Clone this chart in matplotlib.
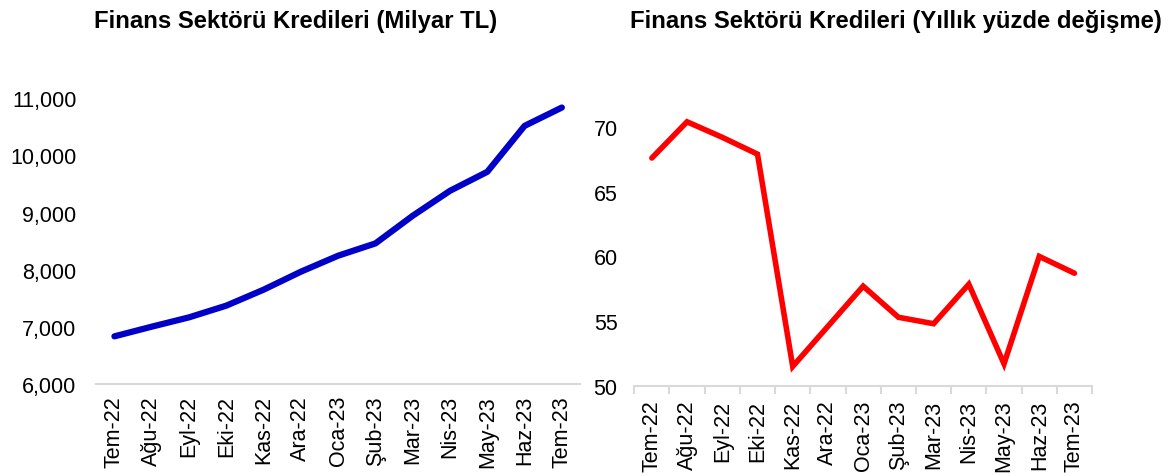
import matplotlib
matplotlib.use("Agg")
import matplotlib.pyplot as plt
from matplotlib.ticker import FuncFormatter, MultipleLocator

plt.rcParams['font.family'] = ['Liberation Sans', 'DejaVu Sans']

months = ["Tem-22", "Ağu-22", "Eyl-22", "Eki-22", "Kas-22", "Ara-22", "Oca-23",
          "Şub-23", "Mar-23", "Nis-23", "May-23", "Haz-23", "Tem-23"]
credit_level = [6833, 7002, 7165, 7370, 7649, 7964, 8244, 8459, 8943, 9380, 9712, 10516, 10837]
credit_growth = [67.6, 70.4, 69.2, 67.9, 51.5, 54.6, 57.7, 55.3, 54.8, 57.85, 51.7, 60.0, 58.7]

title_left = "Finans Sektörü Kredileri (Milyar TL)"
title_right = "Finans Sektörü Kredileri (Yıllık yüzde değişme)"

fig = plt.figure(figsize=(11.68, 4.77), dpi=100)
axL = fig.add_axes([0.082, 0.193, 0.415, 0.599])
axR = fig.add_axes([0.543, 0.189, 0.392, 0.597])

x = list(range(len(months)))
gray = "#d9d9d9"
fs = 15.5
tfs = 17.2

# Left
axL.plot(x, credit_level, color="#0000C8", lw=4.5, solid_capstyle="round", solid_joinstyle="round")
axL.set_xlim(-0.5, len(months) - 0.5)
axL.set_ylim(6000, 11000)
axL.yaxis.set_major_locator(MultipleLocator(1000))
axL.yaxis.set_major_formatter(FuncFormatter(lambda v, p: f"{int(v):,}"))
axL.set_xticks(x)
axL.set_xticklabels(months, rotation=90, fontsize=fs)
axL.tick_params(axis="x", length=0, pad=8)
axL.tick_params(axis="y", length=0, pad=14, labelsize=fs)
for s in ["top", "right", "left"]:
    axL.spines[s].set_visible(False)
axL.spines["bottom"].set_color(gray)
axL.spines["bottom"].set_linewidth(1.5)
fig.text(0.253, 0.955, title_left, ha="center", va="center", fontsize=tfs, fontweight="bold")

# Right
axR.plot(x, credit_growth, color="#FF0000", lw=4.0, solid_capstyle="round", solid_joinstyle="miter")
axR.set_xlim(-0.5, len(months) - 0.5)
axR.set_ylim(50, 72)
axR.set_yticks([50, 55, 60, 65, 70])
axR.set_xticks(x)
axR.set_xticklabels(months, rotation=90, fontsize=fs)
axR.set_xticks([i - 0.5 for i in range(len(months) + 1)], minor=True)
axR.tick_params(axis="x", which="major", length=0, pad=10)
axR.tick_params(axis="x", which="minor", length=6, width=1.5, color=gray, direction="out")
axR.tick_params(axis="y", length=0, pad=12, labelsize=fs)
for s in ["top", "right", "left"]:
    axR.spines[s].set_visible(False)
axR.spines["bottom"].set_color(gray)
axR.spines["bottom"].set_linewidth(1.5)
fig.text(0.767, 0.955, title_right, ha="center", va="center", fontsize=tfs, fontweight="bold")

for ax in (axL, axR):
    for l in ax.get_lines():
        l.set_clip_on(False)

fig.savefig("out.png", dpi=100)
